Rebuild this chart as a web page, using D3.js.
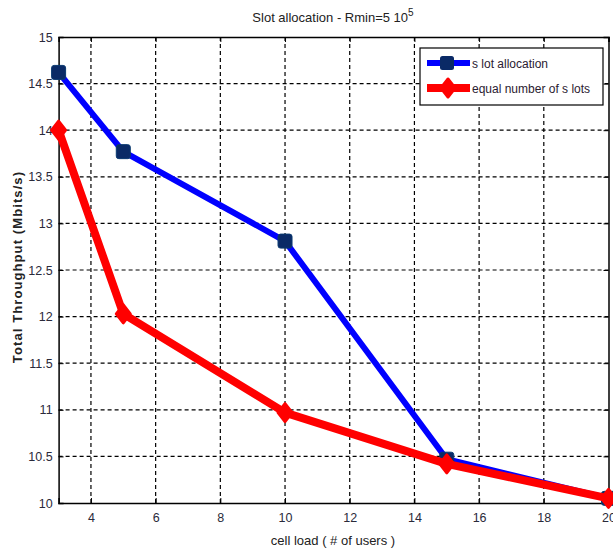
<!DOCTYPE html>
<html lang="en">
<head>
<meta charset="utf-8">
<script src="https://d3js.org/d3.v7.min.js"></script>
<style>
  body { margin: 0; background: #fff; }
  text { font-family: "Liberation Sans", Arial, sans-serif; }
</style>
</head>
<body>
<script>
// data
var users = [3, 5, 10, 15, 20];
var slotAlloc = [14.62, 13.77, 12.81, 10.47, 10.05];
var equalSlots = [14.0, 12.03, 10.97, 10.42, 10.05];
var xTicks = [4, 6, 8, 10, 12, 14, 16, 18, 20];
var yTicks = [10, 10.5, 11, 11.5, 12, 12.5, 13, 13.5, 14, 14.5, 15];
var seriesNames = ["s lot allocation", "equal number of s lots"];

var w = 613, h = 552;
// plot box (note: "top" is reserved on window, so use prefixed names)
var pLeft = 58.6, pRight = 608.5, pTop = 37, pBottom = 503;

var svg = d3.select("body").append("svg")
  .attr("width", w).attr("height", h);

var x = d3.scaleLinear().domain([3, 20]).range([pLeft, pRight]);
var y = d3.scaleLinear().domain([10, 15]).range([pBottom, pTop]);

// grid
svg.append("g").selectAll("line").data(xTicks.filter(function(d) { return d < 20; }))
  .enter().append("line")
  .attr("x1", function(d) { return x(d); }).attr("x2", function(d) { return x(d); })
  .attr("y1", pTop).attr("y2", pBottom)
  .attr("stroke", "#000").attr("stroke-width", 1.2).attr("stroke-dasharray", "4,3");
svg.append("g").selectAll("line").data(yTicks.filter(function(d) { return d > 10 && d < 15; }))
  .enter().append("line")
  .attr("y1", function(d) { return y(d); }).attr("y2", function(d) { return y(d); })
  .attr("x1", pLeft).attr("x2", pRight)
  .attr("stroke", "#000").attr("stroke-width", 1.2).attr("stroke-dasharray", "4,3");

// axes
var xAxis = d3.axisBottom(x).tickValues(xTicks).tickSize(-5).tickPadding(10)
  .tickFormat(d3.format("d"));
var yAxis = d3.axisLeft(y).tickValues(yTicks).tickSize(-5).tickPadding(6)
  .tickFormat(function(d) { return d; });

var gx = svg.append("g").attr("transform", "translate(0," + pBottom + ")").call(xAxis);
var gy = svg.append("g").attr("transform", "translate(" + pLeft + ",0)").call(yAxis);
svg.append("g").attr("transform", "translate(0," + pTop + ")")
  .call(d3.axisTop(x).tickValues(xTicks).tickSize(-5).tickFormat(""));
svg.append("g").attr("transform", "translate(" + pRight + ",0)")
  .call(d3.axisRight(y).tickValues(yTicks).tickSize(-5).tickFormat(""));

svg.selectAll(".domain").attr("stroke", "#000").attr("stroke-width", 1.5);
[gx, gy].forEach(function(g) {
  g.selectAll("text").attr("font-size", 12.5).attr("fill", "#2a2a3a")
    .style("font-family", "'Liberation Sans', Arial, sans-serif");
});

// lines
var line = d3.line()
  .x(function(d, i) { return x(users[i]); })
  .y(function(d) { return y(d); });

svg.append("path").datum(slotAlloc)
  .attr("d", line).attr("fill", "none")
  .attr("stroke", "#0000ff").attr("stroke-width", 6).attr("stroke-linejoin", "round");

svg.append("g").selectAll("rect").data(slotAlloc).enter().append("rect")
  .attr("x", function(d, i) { return x(users[i]) - 7; })
  .attr("y", function(d) { return y(d) - 7; })
  .attr("width", 14).attr("height", 14).attr("rx", 2.5)
  .attr("fill", "#0a2a66").attr("stroke", "#0a3a70").attr("stroke-width", 1);

svg.append("path").datum(equalSlots)
  .attr("d", line).attr("fill", "none")
  .attr("stroke", "#ff0000").attr("stroke-width", 8).attr("stroke-linejoin", "round");

// rounded diamond marker
function diamondPath(hw, hh) {
  return "M0," + (-hh) + "L" + hw + ",0L0," + hh + "L" + (-hw) + ",0Z";
}
svg.append("g").selectAll("path").data(equalSlots).enter().append("path")
  .attr("d", diamondPath(7, 9))
  .attr("transform", function(d, i) { return "translate(" + x(users[i]) + "," + y(d) + ")"; })
  .attr("fill", "#ff0000").attr("stroke", "#ff0000").attr("stroke-width", 3)
  .attr("stroke-linejoin", "round");

// title
var title = svg.append("text").attr("x", 333).attr("y", 22)
  .attr("text-anchor", "middle").attr("font-size", 13).attr("fill", "#222");
title.append("tspan").text("Slot allocation - Rmin=5 10");
title.append("tspan").attr("font-size", 10).attr("dy", -6).text("5");

// axis labels
svg.append("text").attr("x", 333).attr("y", 545)
  .attr("text-anchor", "middle").attr("font-size", 13).attr("fill", "#222")
  .text("cell load ( # of users )");

svg.append("text")
  .attr("transform", "translate(22,267) rotate(-90)")
  .attr("text-anchor", "middle").attr("font-size", 13).attr("font-weight", "bold")
  .attr("fill", "#222").attr("letter-spacing", 1.1)
  .text("Total  Throughput (Mbits/s)");

// legend
var lg = svg.append("g");
lg.append("rect").attr("x", 420).attr("y", 48).attr("width", 183).attr("height", 57)
  .attr("fill", "#fff").attr("stroke", "#000").attr("stroke-width", 1.2);

lg.append("line").attr("x1", 427).attr("x2", 470).attr("y1", 63).attr("y2", 63)
  .attr("stroke", "#0000ff").attr("stroke-width", 6);
lg.append("rect").attr("x", 440).attr("y", 56).attr("width", 14).attr("height", 14).attr("rx", 2.5)
  .attr("fill", "#0a2a66");
lg.append("line").attr("x1", 427).attr("x2", 470).attr("y1", 88).attr("y2", 88)
  .attr("stroke", "#ff0000").attr("stroke-width", 8);
lg.append("path").attr("d", diamondPath(7, 9)).attr("transform", "translate(448,88)")
  .attr("fill", "#ff0000").attr("stroke", "#ff0000").attr("stroke-width", 3)
  .attr("stroke-linejoin", "round");

lg.selectAll("text.lab").data(seriesNames).enter().append("text")
  .attr("class", "lab")
  .attr("x", 472).attr("y", function(d, i) { return 68 + i * 25; })
  .attr("font-size", 12).attr("fill", "#2a2030")
  .text(function(d) { return d; });
</script>
</body>
</html>
